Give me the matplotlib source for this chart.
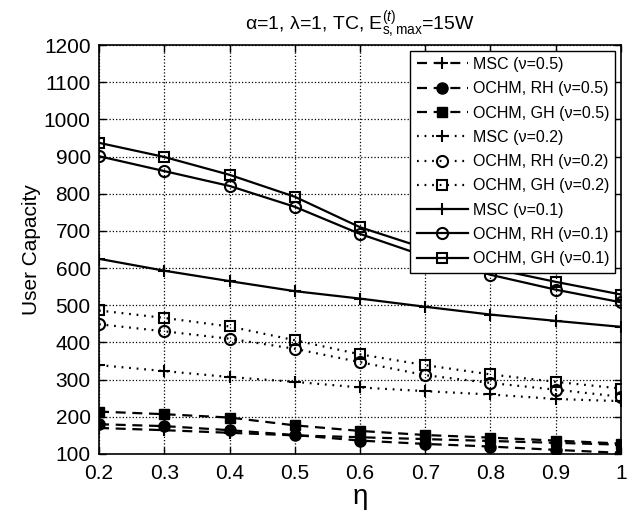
import matplotlib.pyplot as plt

plt.rcParams['font.family'] = ['Liberation Sans', 'DejaVu Sans']
plt.rcParams['mathtext.fontset'] = 'custom'
plt.rcParams['mathtext.rm'] = 'Liberation Sans'
plt.rcParams['mathtext.it'] = 'Liberation Sans:italic'

eta = [0.2, 0.3, 0.4, 0.5, 0.6, 0.7, 0.8, 0.9, 1.0]

# nu = 0.5 (dashed, filled markers)
msc_05 = [170, 164, 157, 150, 145, 140, 135, 130, 125]
rh_05 = [180, 175, 164, 151, 136, 127, 120, 111, 103]
gh_05 = [214, 207, 198, 177, 162, 151, 144, 136, 128]

# nu = 0.2 (dotted, open markers)
msc_02 = [339, 323, 307, 294, 279, 269, 260, 248, 242]
rh_02 = [449, 430, 410, 383, 347, 312, 291, 273, 254]
gh_02 = [486, 466, 443, 406, 368, 339, 314, 294, 276]

# nu = 0.1 (solid, open markers)
msc_01 = [625, 593, 565, 538, 518, 496, 475, 458, 442]
rh_01 = [901, 861, 821, 765, 692, 632, 582, 542, 508]
gh_01 = [937, 899, 851, 792, 710, 653, 600, 563, 529]

fig = plt.figure(figsize=(6.36, 5.18), dpi=100)
ax = fig.add_axes([0.1557, 0.1236, 0.8207, 0.7894])

lw = 1.6
dash = dict(ls='--', dashes=(4.5, 3))
dot = dict(ls=':', dashes=(0.8, 2.6))
ax.plot(eta, msc_05, color='k', lw=lw, marker='+', ms=9, mew=1.5, label='MSC (ν=0.5)', **dash)
ax.plot(eta, rh_05, color='k', lw=lw, marker='o', ms=8, mfc='k', label='OCHM, RH (ν=0.5)', **dash)
ax.plot(eta, gh_05, color='k', lw=lw, marker='s', ms=7, mfc='k', label='OCHM, GH (ν=0.5)', **dash)
ax.plot(eta, msc_02, color='k', lw=lw, marker='+', ms=9, mew=1.5, label='MSC (ν=0.2)', **dot)
ax.plot(eta, rh_02, color='k', lw=lw, marker='o', ms=8, mfc='none', mew=1.5, label='OCHM, RH (ν=0.2)', **dot)
ax.plot(eta, gh_02, color='k', lw=lw, marker='s', ms=7, mfc='none', mew=1.5, label='OCHM, GH (ν=0.2)', **dot)
ax.plot(eta, msc_01, '-', color='k', lw=lw, marker='+', ms=9, mew=1.5, label='MSC (ν=0.1)')
ax.plot(eta, rh_01, '-', color='k', lw=lw, marker='o', ms=8, mfc='none', mew=1.5, label='OCHM, RH (ν=0.1)')
ax.plot(eta, gh_01, '-', color='k', lw=lw, marker='s', ms=7, mfc='none', mew=1.5, label='OCHM, GH (ν=0.1)')

ax.set_xlim(0.2, 1.0)
ax.set_ylim(100, 1200)
ax.set_xticks(eta)
ax.set_xticklabels(['0.2', '0.3', '0.4', '0.5', '0.6', '0.7', '0.8', '0.9', '1'])
ax.set_yticks(range(100, 1201, 100))
ax.tick_params(direction='in', top=True, right=True, labelsize=15, length=5, width=1)
ax.tick_params(axis='x', pad=7)
ax.tick_params(axis='y', pad=6)
ax.grid(True, linestyle=':', color='k', lw=0.9)
for s in ax.spines.values():
    s.set_linewidth(1.2)

ax.set_xlabel('η', fontsize=20, labelpad=1)
ax.set_ylabel('User Capacity', fontsize=15, labelpad=2)
ax.set_title('α=1, λ=1, TC, E$^{(t)}_{\\mathrm{s,max}}$=15W', fontsize=14, pad=11)

leg = ax.legend(loc='upper right', fontsize=11.5, handlelength=3.2, fancybox=False,
                edgecolor='k', framealpha=1, borderaxespad=0.35, labelspacing=0.58,
                handletextpad=0.3, borderpad=0.4)
leg.get_frame().set_linewidth(1.0)

fig.savefig('out.png', dpi=100)
